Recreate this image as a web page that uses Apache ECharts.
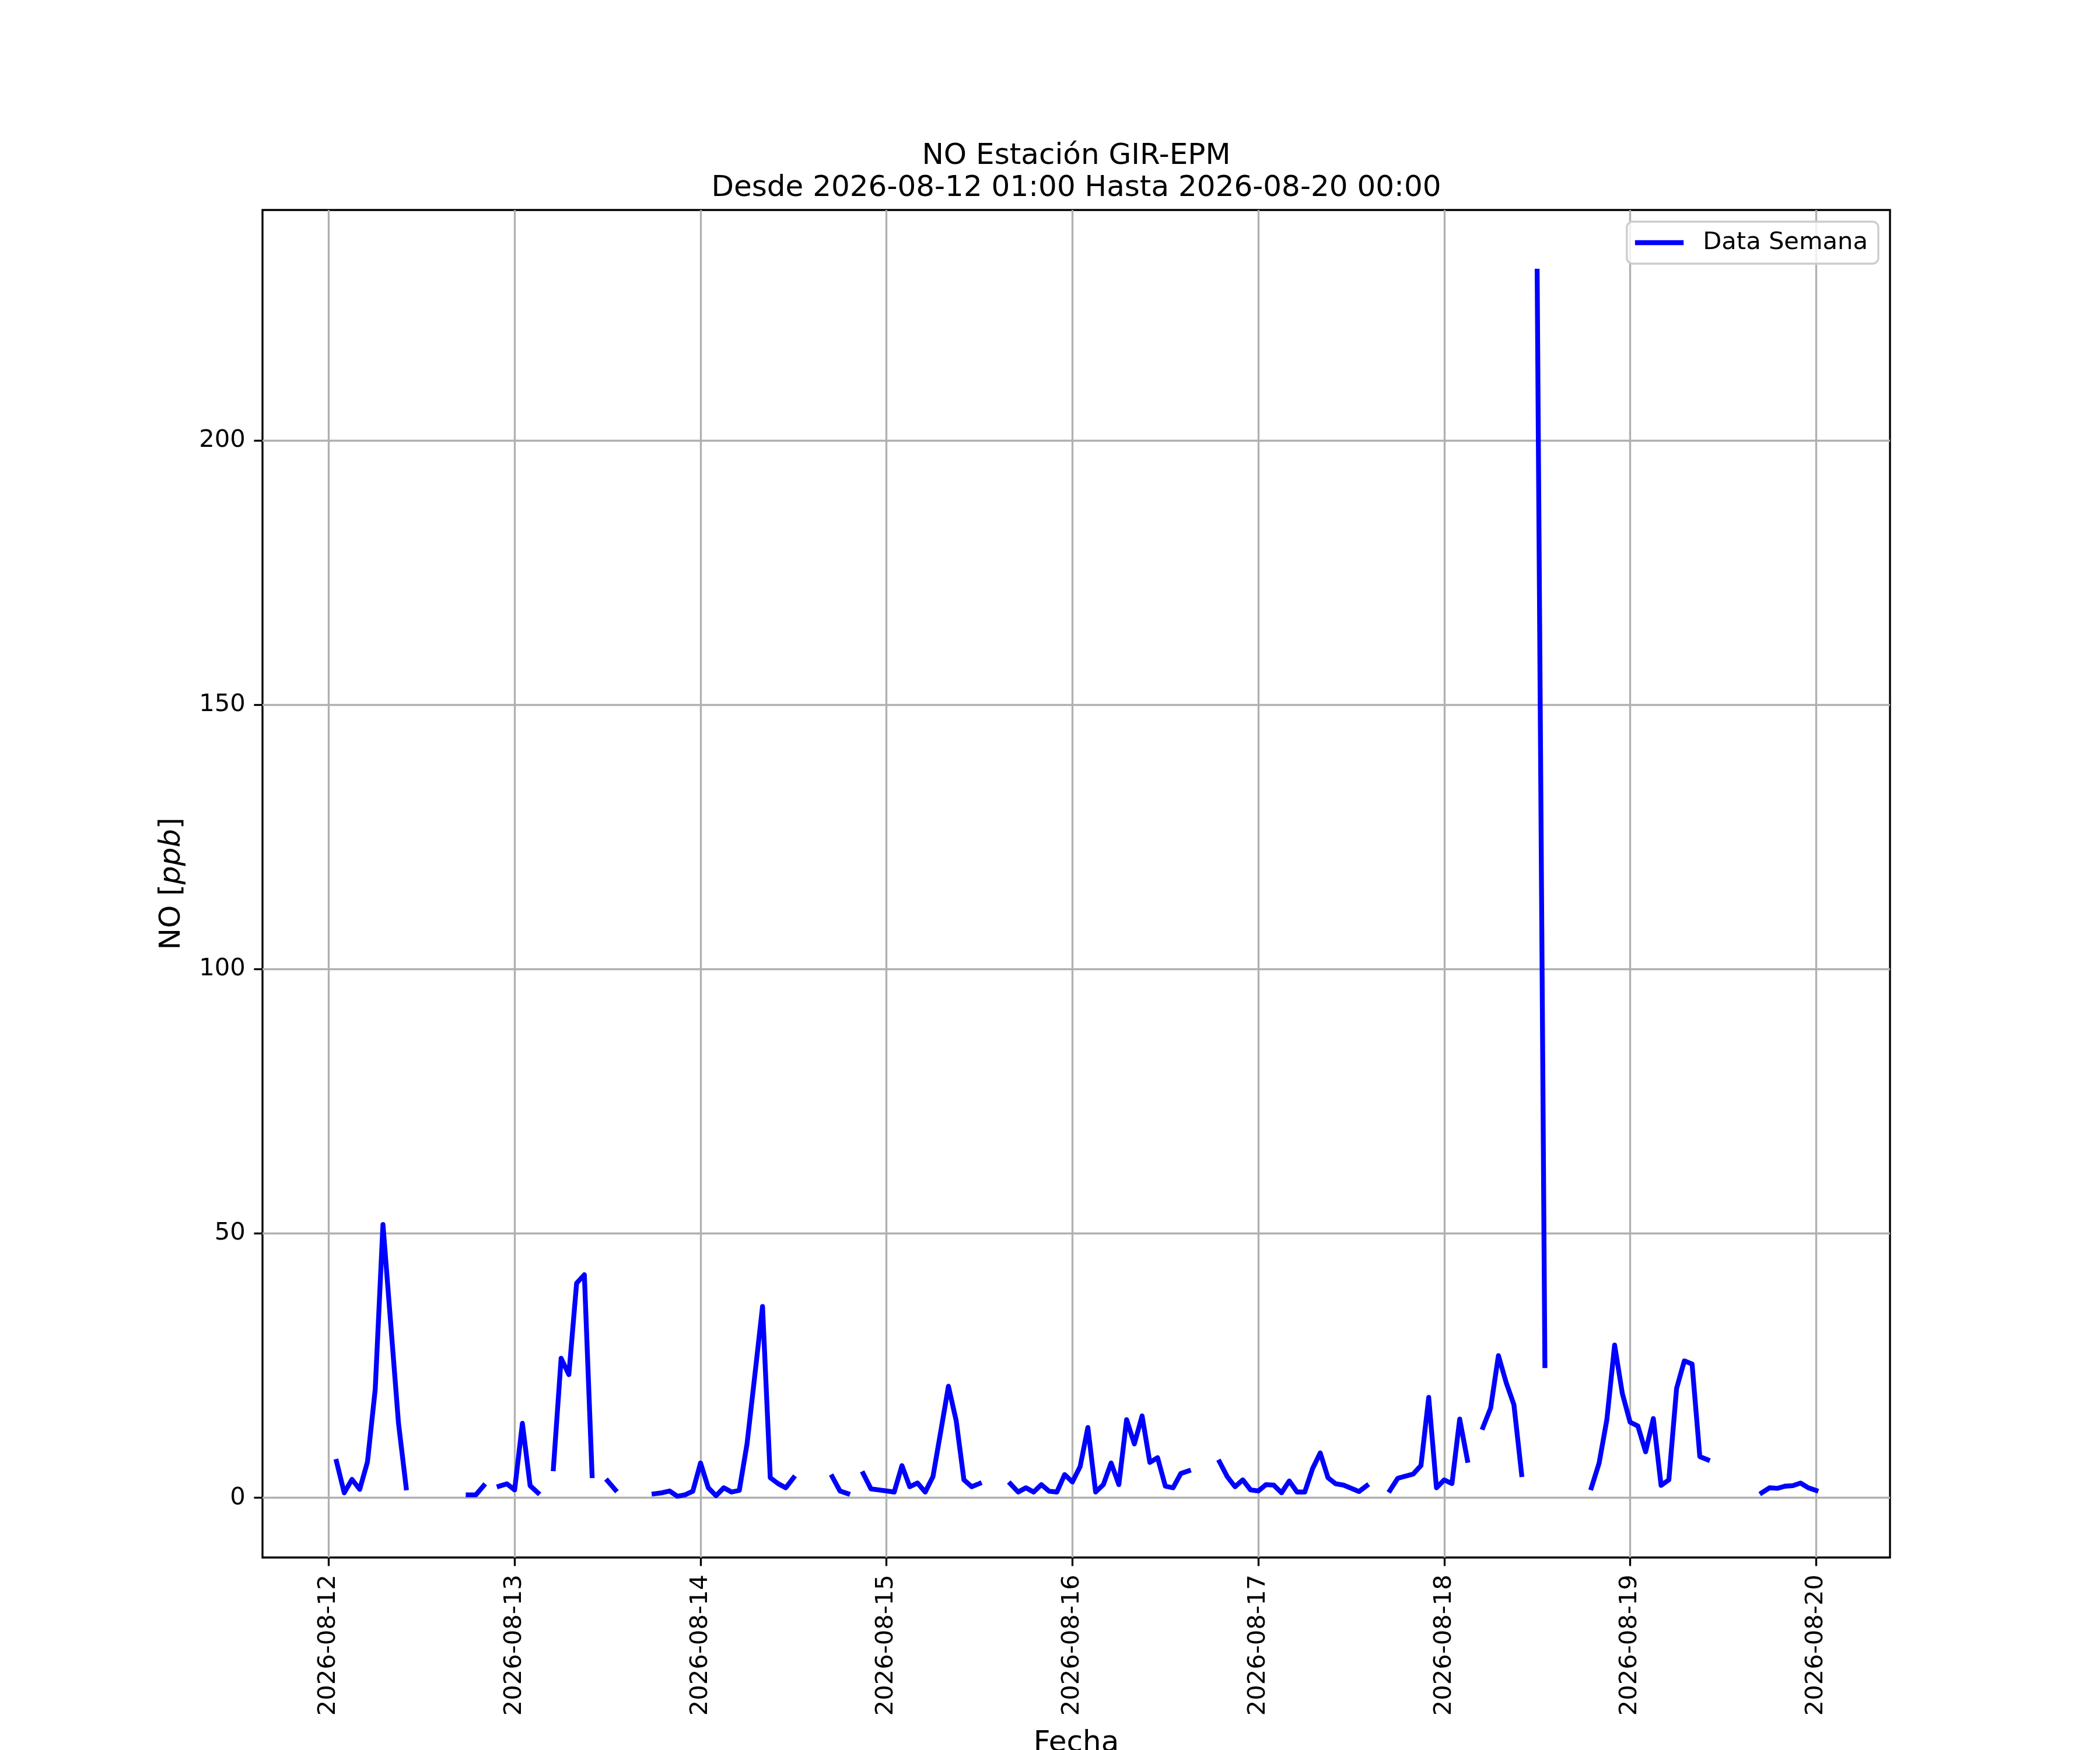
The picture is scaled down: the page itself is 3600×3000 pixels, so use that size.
<!DOCTYPE html>
<html>
<head>
<meta charset="utf-8">
<script src="https://cdn.jsdelivr.net/npm/echarts@6/dist/echarts.min.js"></script>
<style>
html, body { margin: 0; padding: 0; background: #fff; }
#main { width: 3600px; height: 3000px; }
</style>
</head>
<body>
<div id="main"></div>
<script>
// NO horario [ppb], null = sin dato
// 2026-08-12 arranca a la 01:00
const dia12 = [6.9, 0.95, 3.5, 1.6, 6.8, 20.5, 51.7, 33, 14.2, 1.9, null, null,
  null, null, null, null, null, 0.57, 0.57, 2.3, null, 2.2, 2.65];
const dia13 = [1.5, 14.1, 2.3, 0.95, null, 5.5, 26.4, 23.3, 40.6, 42.2, 4.2, null,
  3.2, 1.5, null, null, null, null, 0.76, 0.95, 1.3, 0.3, 0.57, 1.25];
const dia14 = [6.6, 1.9, 0.4, 1.9, 1.1, 1.4, 10.2, 23.1, 36.2, 3.8, 2.7, 1.9,
  3.8, null, null, null, null, 4.0, 1.3, 0.8, null, 4.6, 1.7, 1.5];
const dia15 = [1.3, 1.1, 6.1, 2.1, 2.8, 1.1, 4.0, 12.5, 21.1, 14.6, 3.4, 2.1,
  2.7, null, null, null, 2.65, 1.1, 1.9, 1.1, 2.5, 1.25, 1.1, 4.4];
const dia16 = [3.0, 5.9, 13.3, 1.1, 2.5, 6.6, 2.5, 14.8, 10.2, 15.5, 6.7, 7.6,
  2.2, 1.9, 4.6, 5.1, null, null, null, 6.8, 4.0, 2.1, 3.4, 1.5];
const dia17 = [1.3, 2.5, 2.4, 0.95, 3.2, 1.1, 1.1, 5.5, 8.5, 3.8, 2.65, 2.4,
  1.8, 1.2, 2.3, null, null, 1.4, 3.7, 4.1, 4.5, 6.1, 19.0, 1.9];
const dia18 = [3.4, 2.7, 14.9, 7.1, null, 13.3, 17.0, 26.9, 21.8, 17.6, 4.4, null,
  232, 25, null, null, null, null, null, 1.9, 6.6, 14.8, 28.9, 19.7];
const dia19 = [14.3, 13.6, 8.7, 15.0, 2.35, 3.4, 20.7, 25.9, 25.3, 7.8, 7.2, null,
  null, null, null, null, null, 0.95, 1.9, 1.8, 2.2, 2.3, 2.8, 1.9];
const dia20 = [1.4];

const fechasTicks = ['2026-08-12', '2026-08-13', '2026-08-14', '2026-08-15', '2026-08-16',
  '2026-08-17', '2026-08-18', '2026-08-19', '2026-08-20'];
const yTicks = [0, 50, 100, 150, 200];

const HORA = 3600 * 1000;
const inicio = Date.UTC(2026, 7, 12, 1);
const valores = [].concat(dia12, dia13, dia14, dia15, dia16, dia17, dia18, dia19, dia20);
const serie = valores.map((v, i) => [inicio + i * HORA, v]);
const fin = inicio + (valores.length - 1) * HORA;

// margenes tipo matplotlib (5%)
const dx = (fin - inicio) * 0.05;
const validos = valores.filter(v => v !== null);
const vmin = Math.min.apply(null, validos), vmax = Math.max.apply(null, validos);
const dy = (vmax - vmin) * 0.05;

const tickFechas = fechasTicks.map(s => Date.parse(s + 'T00:00:00Z'));
const pad2 = n => (n < 10 ? '0' : '') + n;
const fmtFecha = v => {
  const d = new Date(v);
  return d.getUTCFullYear() + '-' + pad2(d.getUTCMonth() + 1) + '-' + pad2(d.getUTCDate());
};

const FONT = 'DejaVu Sans';
const PT = 300 / 72;
const chart = echarts.init(document.getElementById('main'));
chart.setOption({
  animation: false,
  backgroundColor: '#fff',
  graphic: [{
    type: 'text',
    x: 1845,
    y: 241,
    style: {
      text: 'NO Estación GIR-EPM\nDesde 2026-08-12 01:00 Hasta 2026-08-20 00:00',
      textAlign: 'center',
      textVerticalAlign: 'top',
      font: (12 * PT) + 'px "DejaVu Sans"',
      lineHeight: 55,
      fill: '#000'
    }
  }],
  grid: {
    left: 450, right: 360, top: 360, bottom: 330,
    outerBoundsMode: 'none',
    containLabel: false,
    show: true, borderColor: '#000', borderWidth: 0.8 * PT, backgroundColor: 'transparent'
  },
  legend: {
    right: 380, top: 380,
    orient: 'vertical',
    padding: [15, 18, 15, 14],
    itemWidth: 2 * 10 * PT, itemHeight: 2 * PT,
    borderColor: '#cccccc', borderWidth: 0.8 * PT, borderRadius: 10,
    backgroundColor: 'rgba(255,255,255,0.8)',
    textStyle: { fontFamily: FONT, fontSize: 10 * PT, color: '#000', padding: [0, 0, 0, 28] },
    data: [{ name: 'Data Semana', icon: 'rect' }]
  },
  xAxis: {
    type: 'value',
    min: inicio - dx,
    max: fin + dx,
    name: 'Fecha',
    nameLocation: 'middle',
    nameGap: 294,
    nameTextStyle: { fontFamily: FONT, fontSize: 12 * PT, color: '#000' },
    axisLine: { show: false, onZero: false },
    axisTick: {
      show: true, length: 3.5 * PT, customValues: tickFechas,
      lineStyle: { color: '#000', width: 0.8 * PT }
    },
    axisLabel: {
      show: true, rotate: 90, margin: 7 * PT, customValues: tickFechas,
      formatter: fmtFecha, hideOverlap: false,
      fontFamily: FONT, fontSize: 10 * PT, color: '#000'
    },
    splitLine: { show: true, lineStyle: { color: '#b0b0b0', width: 0.8 * PT } }
  },
  yAxis: {
    type: 'value',
    min: vmin - dy,
    max: vmax + dy,
    name: 'NO [{i|ppb}]',
    nameLocation: 'middle',
    nameRotate: 90,
    nameGap: 130,
    nameTextStyle: {
      fontFamily: FONT, fontSize: 12 * PT, color: '#000',
      rich: { i: { fontFamily: FONT, fontSize: 12 * PT, fontStyle: 'italic', color: '#000' } }
    },
    axisLine: { show: false, onZero: false },
    axisTick: {
      show: true, length: 3.5 * PT, customValues: yTicks,
      lineStyle: { color: '#000', width: 0.8 * PT }
    },
    axisLabel: {
      show: true, margin: 7 * PT, customValues: yTicks,
      fontFamily: FONT, fontSize: 10 * PT, color: '#000'
    },
    splitLine: { show: true, lineStyle: { color: '#b0b0b0', width: 0.8 * PT } }
  },
  series: [{
    name: 'Data Semana',
    type: 'line',
    data: serie,
    symbol: 'none',
    connectNulls: false,
    color: '#0000ff',
    lineStyle: { color: '#0000ff', width: 2 * PT, cap: 'square', join: 'round' }
  }]
});
</script>
</body>
</html>
